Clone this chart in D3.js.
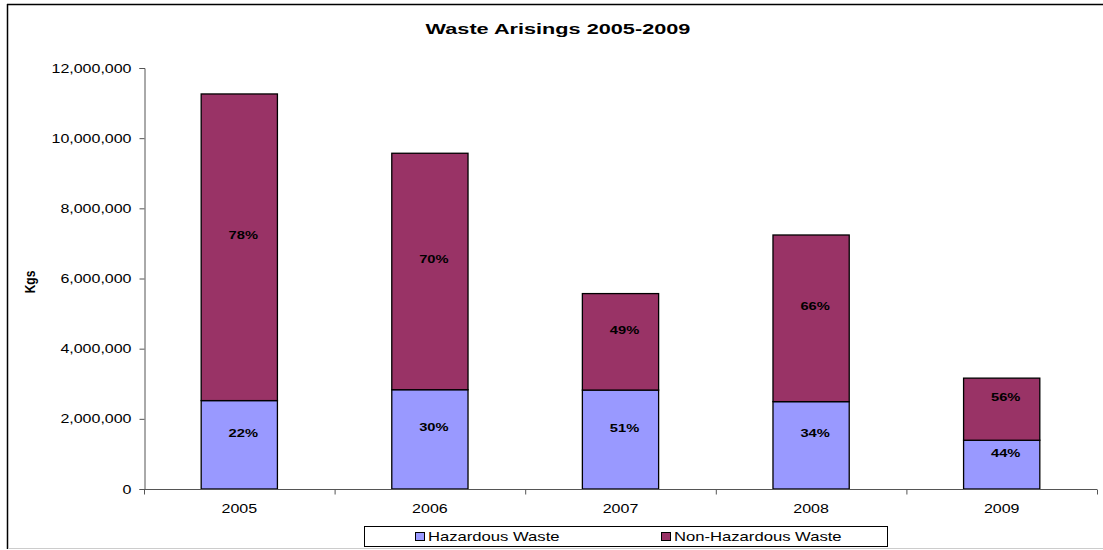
<!DOCTYPE html>
<html><head><meta charset="utf-8">
<script src="https://cdn.jsdelivr.net/npm/d3@7"></script>
<style>body{margin:0;background:#fff}svg{display:block;font-family:"Liberation Sans",Arial,sans-serif}</style>
</head><body>
<svg id="c" width="1103" height="550"></svg>
<script>
const years = ["2005","2006","2007","2008","2009"];
const hazardous = [2520000, 2830000, 2820000, 2490000, 1390000];
const nonHazardous = [8740000, 6740000, 2750000, 4750000, 1770000];
const hazLabels = ["22%","30%","51%","34%","44%"];
const nonLabels = ["78%","70%","49%","66%","56%"];
const yTicks = [0,2000000,4000000,6000000,8000000,10000000,12000000];
const seriesNames = ["Hazardous Waste","Non-Hazardous Waste"];
const colors = ["#9999FF","#993366"];

const SX = 1.28; // horizontal stretch of text seen in the reference
const svg = d3.select("#c");
function stext(parent, x, y, str, o) {
  o = o || {};
  const g = parent.append("g").attr("transform", `translate(${x},${y}) scale(${o.sx || SX},1)`);
  return g.append("text").attr("x",0).attr("y",0)
    .attr("text-anchor", o.anchor || "start")
    .attr("font-size", o.size || 12.5)
    .attr("font-weight", o.weight || "normal")
    .attr("fill","#000").text(str);
}

// frame
svg.append("line").attr("x1",7.5).attr("x2",7.5).attr("y1",4).attr("y2",549).attr("stroke","#000").attr("stroke-width",1.5);
svg.append("line").attr("x1",7).attr("x2",1103).attr("y1",4.5).attr("y2",4.5).attr("stroke","#000").attr("stroke-width",1.5);
svg.append("line").attr("x1",8).attr("x2",1103).attr("y1",548.5).attr("y2",548.5).attr("stroke","#ccc");

const m = {l:144, r:1097, t:68, b:489};
const x = d3.scaleBand().domain(years).range([m.l,m.r]).paddingInner(0.6).paddingOuter(0.3);
const xb = d3.scaleBand().domain(years).range([m.l,m.r]);
const y = d3.scaleLinear().domain([0,12000000]).range([m.b,m.t]);

stext(svg, 558, 34, "Waste Arisings 2005-2009", {anchor:"middle", weight:"bold", size:14, sx:1.55});

// y axis
const ya = svg.append("g").attr("transform",`translate(${m.l+0.5},0)`)
  .call(d3.axisLeft(y).tickValues(yTicks).tickSize(5).tickPadding(8).tickFormat(d3.format(",")));
ya.select(".domain").attr("stroke","#555");
ya.selectAll(".tick line").attr("stroke","#555");
ya.selectAll("text").attr("font-size",12.5).attr("fill","#000")
  .attr("font-family","Liberation Sans, Arial, sans-serif")
  .attr("x",0).attr("transform",`translate(-13,0) scale(${SX},1)`);

svg.append("text").attr("transform","translate(35,282) rotate(-90) scale(1,1.2)").attr("text-anchor","middle")
  .attr("font-weight","bold").attr("font-size",12).text("Kgs");

// stacked bars
const stack = years.map((yr,i)=>({yr, segs:[
  {v0:0, v1:hazardous[i], c:colors[0], lab:hazLabels[i]},
  {v0:hazardous[i], v1:hazardous[i]+nonHazardous[i], c:colors[1], lab:nonLabels[i]}
]}));
const g = svg.append("g");
stack.forEach(s=>{
  s.segs.forEach(sg=>{
    g.append("rect").attr("x",x(s.yr)).attr("width",x.bandwidth())
      .attr("y",y(sg.v1)).attr("height",y(sg.v0)-y(sg.v1))
      .attr("fill",sg.c).attr("stroke","#000").attr("stroke-width",1.3);
  });
});
stack.forEach(s=>{
  s.segs.forEach(sg=>{
    stext(g, x(s.yr)+x.bandwidth()/2+4, (y(sg.v0)+y(sg.v1))/2-8, sg.lab,
      {anchor:"middle", weight:"bold", size:11.5});
  });
});

// x axis
const xa = svg.append("g").attr("transform",`translate(0,${m.b+0.5})`);
xa.append("line").attr("x1",m.l).attr("x2",m.r).attr("stroke","#555");
const bounds = years.map(d=>xb(d)).concat([m.r]);
xa.selectAll(".tk").data(bounds).enter().append("line")
  .attr("x1",d=>d+0.5).attr("x2",d=>d+0.5).attr("y1",0).attr("y2",5).attr("stroke","#555");
years.forEach(d=>{
  stext(xa, xb(d)+xb.bandwidth()/2, 23, d, {anchor:"middle", size:12.5});
});

// legend
const lg = svg.append("g");
lg.append("rect").attr("x",364.5).attr("y",526.5).attr("width",523).attr("height",20).attr("fill","#fff").attr("stroke","#000");
const lx = [415, 661];
seriesNames.forEach((n,i)=>{
  lg.append("rect").attr("x",lx[i]+0.5).attr("y",532.5).attr("width",9).attr("height",8).attr("fill",colors[i]).attr("stroke","#000");
  stext(lg, lx[i]+13, 541, n, {size:13});
});
</script>
</body></html>
